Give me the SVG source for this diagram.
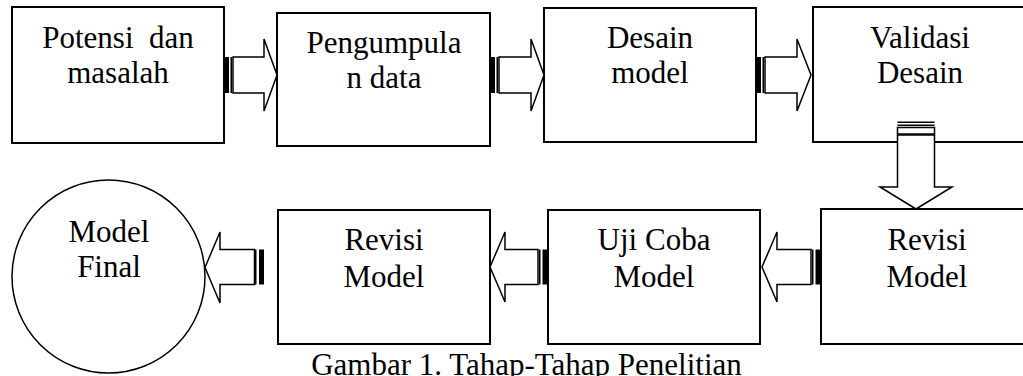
<svg xmlns="http://www.w3.org/2000/svg" width="1023" height="376" viewBox="0 0 1023 376">
  <style>
    .box { fill: #fff; stroke: #000; stroke-width: 2; }
    .arrow { fill: #fff; stroke: #000; stroke-width: 1.5; stroke-linejoin: miter; }
    .bar { fill: #000; }
    .lbl { font-size: 31px; fill: #000; text-anchor: middle; }
  </style>
  <rect width="1023" height="376" fill="#fff"/>

  <!-- process steps -->
  <g font-family="'Liberation Serif', 'DejaVu Serif', serif">
  <g id="potensi">
    <rect class="box" x="12" y="7" width="212" height="136"/>
    <text class="lbl" x="118" y="48" xml:space="preserve">Potensi  dan</text>
    <text class="lbl" x="118" y="83">masalah</text>
  </g>
  <g id="pengumpulan">
    <rect class="box" x="277" y="13" width="213" height="133"/>
    <text class="lbl" x="384" y="53">Pengumpula</text>
    <text class="lbl" x="384" y="88">n data</text>
  </g>
  <g id="desain">
    <rect class="box" x="544" y="8" width="212" height="134"/>
    <text class="lbl" x="650" y="48">Desain</text>
    <text class="lbl" x="650" y="83">model</text>
  </g>
  <g id="validasi">
    <rect class="box" x="813" y="7" width="220" height="135"/>
    <text class="lbl" x="920" y="48">Validasi</text>
    <text class="lbl" x="920" y="83">Desain</text>
  </g>
  <g id="revisi1">
    <rect class="box" x="821" y="209" width="215" height="135"/>
    <text class="lbl" x="927" y="250">Revisi</text>
    <text class="lbl" x="927" y="287">Model</text>
  </g>
  <g id="ujicoba">
    <rect class="box" x="548" y="210" width="212" height="134"/>
    <text class="lbl" x="654" y="250">Uji Coba</text>
    <text class="lbl" x="654" y="287">Model</text>
  </g>
  <g id="revisi2">
    <rect class="box" x="278" y="210" width="212" height="134"/>
    <text class="lbl" x="384" y="250">Revisi</text>
    <text class="lbl" x="384" y="287">Model</text>
  </g>
  <g id="final">
    <circle cx="108.5" cy="276.5" r="96.5" fill="#fff" stroke="#000" stroke-width="1.5"/>
    <text class="lbl" x="109" y="242">Model</text>
    <text class="lbl" x="109" y="277">Final</text>
  </g>
  <text class="lbl" x="526.5" y="375">Gambar 1. Tahap-Tahap Penelitian</text>
  </g>

  <!-- striped block arrows -->
  <g id="connectors">
    <!-- top row, pointing right -->
    <g>
      <rect class="bar" x="225" y="57" width="4" height="36"/>
      <rect class="bar" x="230.5" y="57" width="1.5" height="36"/>
      <polygon class="arrow" points="233,57 264,57 264,39 277,75 264,111 264,93 233,93"/>
    </g>
    <g>
      <rect class="bar" x="491" y="57" width="4" height="36"/>
      <rect class="bar" x="496.5" y="57" width="1.5" height="36"/>
      <polygon class="arrow" points="499,57 531,57 531,39 544,75 531,111 531,93 499,93"/>
    </g>
    <g>
      <rect class="bar" x="757" y="57" width="4" height="36"/>
      <rect class="bar" x="762.5" y="57" width="1.5" height="36"/>
      <polygon class="arrow" points="765,57 797,57 797,39 811,75 797,111 797,93 765,93"/>
    </g>
    <!-- downward -->
    <g>
      <polygon class="arrow" points="897.5,135 934.5,135 934.5,187 952,187 916,209 880,187 897.5,187"/>
      <rect class="arrow" x="897.5" y="127.5" width="37" height="6.5"/>
      <rect class="bar" x="897.5" y="121.5" width="37" height="1.5"/>
      <rect class="bar" x="897.5" y="124.5" width="37" height="1.5"/>
    </g>
    <!-- bottom row, pointing left -->
    <g>
      <polygon class="arrow" points="811,249.5 777,249.5 777,232 762,267 777,302 777,284.5 811,284.5"/>
      <rect class="bar" x="812" y="249.5" width="1.5" height="35"/>
      <rect class="bar" x="815.5" y="249.5" width="5" height="35"/>
    </g>
    <g>
      <polygon class="arrow" points="538,249.5 505,249.5 505,232 490,267 505,302 505,284.5 538,284.5"/>
      <rect class="bar" x="539" y="249.5" width="1.5" height="35"/>
      <rect class="bar" x="542.5" y="249.5" width="5" height="35"/>
    </g>
    <g>
      <polygon class="arrow" points="254.5,249.5 220,249.5 220,232 205,267.5 220,303 220,284.5 254.5,284.5"/>
      <rect class="bar" x="255" y="249.5" width="1.5" height="35"/>
      <rect class="bar" x="259" y="249.5" width="5" height="35"/>
    </g>
  </g>
</svg>
